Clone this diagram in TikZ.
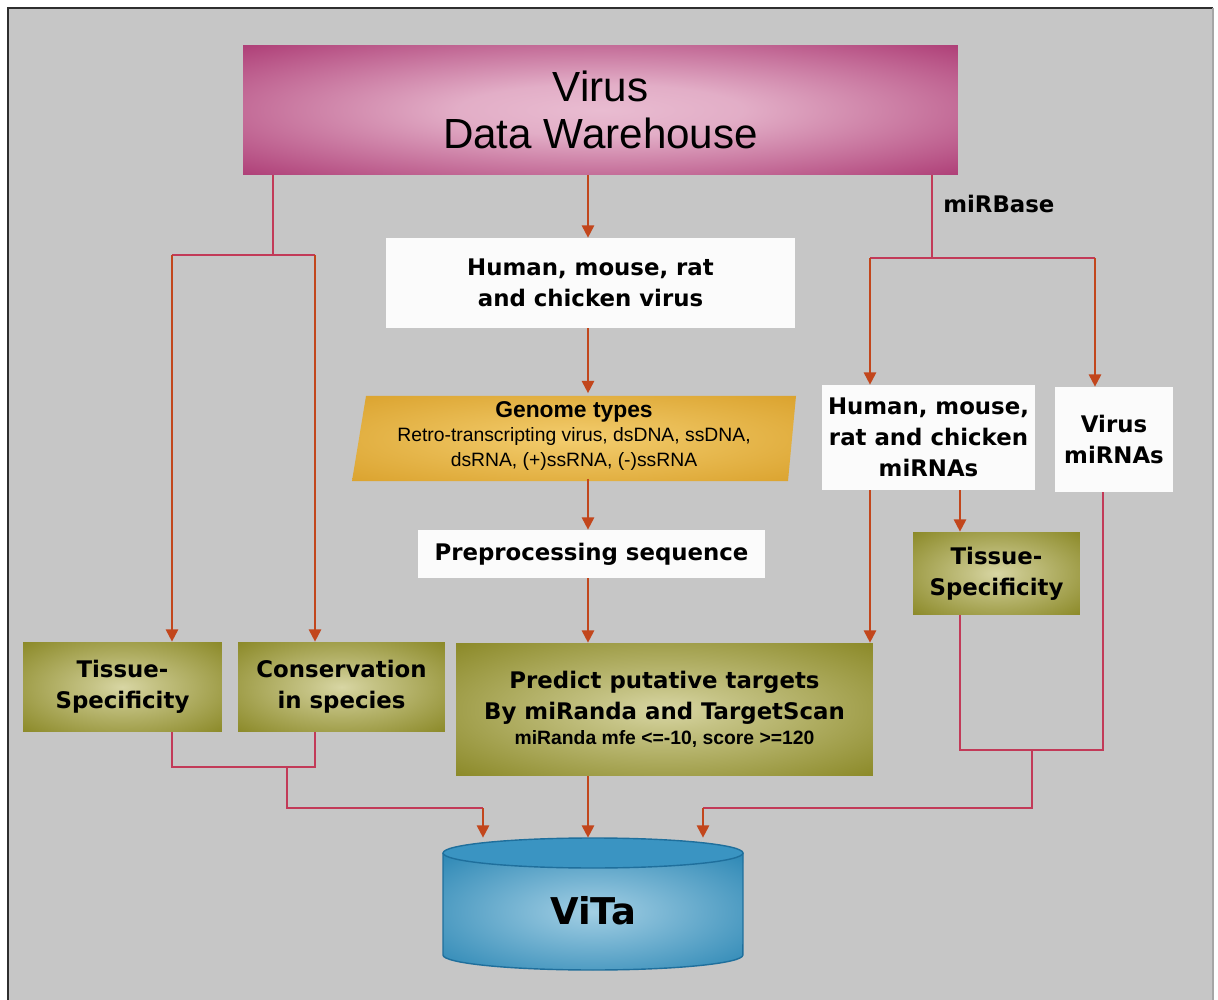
\documentclass[tikz,border=0pt]{standalone}
\usepackage{fontspec}
\setmainfont{DejaVu Sans}
\newfontfamily\arialfont{Liberation Sans}
\usetikzlibrary{arrows.meta, calc}

\definecolor{panelgray}{HTML}{C6C6C6}
\definecolor{panelline}{HTML}{2E2E2E}
\definecolor{magdark}{HTML}{A52B69}
\definecolor{maglight}{HTML}{E9BCD1}
\definecolor{boxwhite}{HTML}{FBFBFB}
\definecolor{golddark}{HTML}{D9A02A}
\definecolor{goldlight}{HTML}{F3CD6E}
\definecolor{olivedark}{HTML}{8A8826}
\definecolor{olivelight}{HTML}{D8D6A4}
\definecolor{bluedark}{HTML}{2A86B4}
\definecolor{bluelight}{HTML}{A3CFE4}
\definecolor{bluetop}{HTML}{3A94C2}
\definecolor{blueedge}{HTML}{1F6F9C}
\definecolor{arrowred}{HTML}{C2461C}
\definecolor{joinred}{HTML}{C23A58}

\pgfdeclareradialshading{titleglow}{\pgfpoint{0bp}{0bp}}{color(0bp)=(maglight); color(10bp)=(maglight!90!magdark); color(40bp)=(magdark); color(50bp)=(magdark)}
\pgfdeclareradialshading{oliveglow}{\pgfpoint{0bp}{0bp}}{color(0bp)=(olivelight); color(8bp)=(olivelight!75!olivedark); color(36bp)=(olivedark); color(50bp)=(olivedark)}
\pgfdeclareradialshading{goldglow}{\pgfpoint{0bp}{0bp}}{color(0bp)=(goldlight); color(38bp)=(golddark); color(50bp)=(golddark)}
\pgfdeclareradialshading{blueglow}{\pgfpoint{0bp}{0bp}}{color(0bp)=(bluelight); color(36bp)=(bluedark); color(50bp)=(bluedark)}

\tikzset{
  arr/.style={draw=arrowred, line width=1.1pt, -{Triangle[length=7pt,width=7pt]}},
  joinln/.style={draw=joinred, line width=1.1pt},
  bodyfont/.style={font=\bfseries\fontsize{13}{17.5}\selectfont},
  whitebox/.style={fill=boxwhite, inner sep=0pt, align=center, bodyfont},
  olivebox/.style={shade, shading=oliveglow, inner sep=0pt, align=center, bodyfont},
}

\begin{document}
\begin{tikzpicture}[x=0.02cm, y=-0.02cm]
\useasboundingbox (0,0) rectangle (1218,1000);
\fill[panelgray] (8,8) rectangle (1213,1000);
\draw[panelline, line width=1.5pt] (8,1000) -- (8,8) -- (1213,8);
\draw[gray!70, line width=1pt] (1213,8) -- (1213,1000);

% boxes
\node[shade, shading=titleglow, minimum width=14.3cm, minimum height=2.6cm, align=center,
  font=\arialfont\fontsize{24}{27}\selectfont] (warehouse) at (600.5,110) {Virus\\Data Warehouse};
\node[whitebox, minimum width=8.18cm, minimum height=1.8cm] (hvirus) at (590.5,283) {Human, mouse, rat\\and chicken virus};
\shade[shading=goldglow] (366,396) -- (796,396) -- (788,481) -- (352,481) -- cycle;
\node[minimum width=8.6cm, minimum height=1.7cm, inner sep=0pt, align=center,
  font=\arialfont\fontsize{11}{14}\selectfont] (genome) at (574,436)
  {{\bfseries\fontsize{13}{14}\selectfont Genome types}\\Retro-transcripting virus, dsDNA, ssDNA,\\dsRNA, (+)ssRNA, (-)ssRNA};
\node[whitebox, minimum width=6.94cm, minimum height=0.96cm] (preproc) at (591.5,554) {Preprocessing sequence};
\node[olivebox, minimum width=8.34cm, minimum height=2.66cm] (predict) at (664.5,709.5)
  {Predict putative targets\\By miRanda and TargetScan\\[-3pt]{\arialfont\fontsize{11}{12}\selectfont miRanda mfe <=-10, score >=120}};
\node[olivebox, minimum width=3.98cm, minimum height=1.8cm] (tisleft) at (122.5,687) {Tissue-\\Specificity};
\node[olivebox, minimum width=4.14cm, minimum height=1.8cm] (conserv) at (341.5,687) {Conservation\\in species};
\node[whitebox, minimum width=4.26cm, minimum height=2.1cm] (hmirna) at (928.5,437.5) {Human, mouse,\\rat and chicken\\miRNAs};
\node[whitebox, minimum width=2.36cm, minimum height=2.1cm] (vmirna) at (1114,439.5) {Virus\\miRNAs};
\node[olivebox, minimum width=3.34cm, minimum height=1.66cm] (tisright) at (996.5,573.5) {Tissue-\\Specificity};
\node[bodyfont, anchor=base west, inner sep=0pt] (mirbase) at (943,213) {miRBase};

% database cylinder
\shade[shading=blueglow] (443,853) -- (443,955)
  arc[start angle=180, end angle=360, x radius=3cm, y radius=0.3cm] -- (743,853) -- cycle;
\draw[blueedge, line width=0.8pt] (443,853) -- (443,955)
  arc[start angle=180, end angle=360, x radius=3cm, y radius=0.3cm] -- (743,853);
\filldraw[fill=bluetop, draw=blueedge, line width=0.8pt] (593,853) ellipse [x radius=3cm, y radius=0.3cm];
\node[minimum width=6cm, minimum height=2.92cm, font=\bfseries\fontsize{21}{24}\selectfont] (vita) at (593,911) {ViTa};

% middle column
\coordinate (spine) at (588,0);
\draw[arr] (warehouse.south -| spine) -- (hvirus.north -| spine);
\draw[arr] (hvirus.south -| spine) -- (genome.north -| spine);
\draw[arr] (genome.south -| spine) -- (preproc.north -| spine);
\draw[arr] (preproc.south -| spine) -- (predict.north -| spine);
\draw[arr] (predict.south -| spine) -- (vita.north -| spine);

% left branch
\coordinate (lsplit) at (273,255);
\coordinate (lbr1) at (172,255);
\coordinate (lbr2) at (315,255);
\coordinate (lmerge) at (287,767);
\coordinate (lturn) at (483,808);
\draw[joinln] (warehouse.south -| lsplit) -- (lsplit);
\draw[joinln] (lbr1) -- (lbr2);
\draw[arr] (lbr1) -- (tisleft.north -| lbr1);
\draw[arr] (lbr2) -- (conserv.north -| lbr2);
\draw[joinln] (tisleft.south -| lbr1) |- (lmerge) -| (conserv.south -| lbr2);
\draw[joinln] (lmerge) |- (lturn);
\draw[arr] (lturn) -- (vita.north -| lturn);

% right branch
\coordinate (rsplit) at (932,258);
\coordinate (rbr1) at (870,258);
\coordinate (rbr2) at (1095,258);
\coordinate (rtis) at (960,0);
\coordinate (rvir) at (1103,0);
\coordinate (rmerge) at (1032,750);
\coordinate (rturn) at (703,808);
\draw[joinln] (warehouse.south -| rsplit) -- (rsplit);
\draw[joinln] (rbr1) -- (rbr2);
\draw[arr] (rbr1) -- (hmirna.north -| rbr1);
\draw[arr] (rbr2) -- (vmirna.north -| rbr2);
\draw[arr] (hmirna.south -| rbr1) -- (predict.north -| rbr1);
\draw[arr] (hmirna.south -| rtis) -- (tisright.north -| rtis);
\draw[joinln] (tisright.south -| rtis) |- (rmerge) -| (vmirna.south -| rvir);
\draw[joinln] (rmerge) |- (rturn);
\draw[arr] (rturn) -- (vita.north -| rturn);
\end{tikzpicture}
\end{document}
